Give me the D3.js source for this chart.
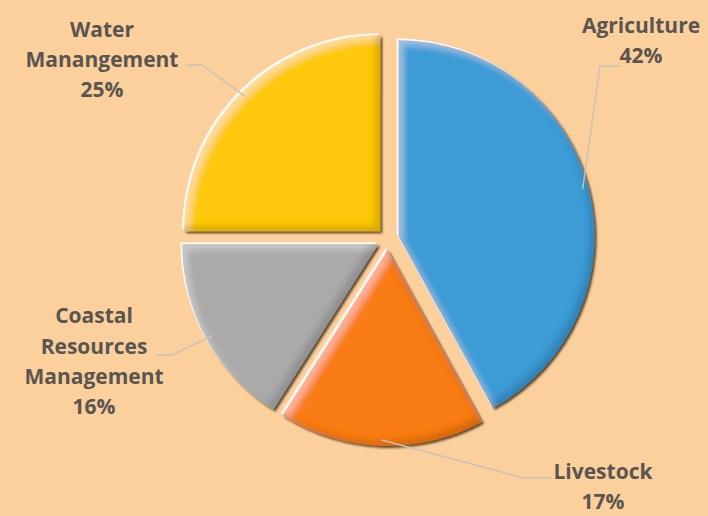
<!DOCTYPE html>
<html lang="en">
<head>
    <meta charset="utf-8">
    <title>Pie</title>
    <script src="https://cdn.jsdelivr.net/npm/d3@7/dist/d3.min.js"></script>
</head>
<style>
    body { margin: 0; background: #FBD09D; }
    svg { display: block; }
</style>
<body>
    <script>

     // slices, clockwise from 12 o'clock
     var categories = ["Agriculture", "Livestock", "Coastal Resources Management", "Water Manangement"];
     var shares = [42, 17, 16, 25];
     var colors = ["#3E9BD6", "#FA7B17", "#AAAAAA", "#FEC80F"];

     // label text lines and where each label sits
     var labelLines = [["Agriculture"], ["Livestock"], ["Coastal", "Resources", "Management"], ["Water", "Manangement"]];
     var labelPos = [
         { x: 641, y: 33, lineEnd: [620, 66], elbow: [600, 66] },
         { x: 603, y: 479, lineEnd: [552, 478], elbow: [524, 478] },
         { x: 94, y: 323, lineEnd: [156, 355], elbow: [172, 355] },
         { x: 102, y: 37, lineEnd: [186, 65], elbow: [202, 65] }
     ];

     var width = 708, height = 516;
     var cx = 388, cy = 239, radius = 196, explode = 11;

     var svg = d3.select("body").append("svg")
                 .attr("width", width)
                 .attr("height", height);

     svg.append("rect")
        .attr("width", width)
        .attr("height", height)
        .attr("fill", "#FBD09D");

     // bevel-ish filter: light rim top-left, dark rim bottom-right, halo + shadow outside
     var defs = svg.append("defs");
     var f = defs.append("filter").attr("id", "bevel")
                 .attr("x", "-10%").attr("y", "-10%")
                 .attr("width", "120%").attr("height", "120%");
     f.append("feGaussianBlur").attr("in", "SourceAlpha").attr("stdDeviation", 3).attr("result", "blur");
     f.append("feOffset").attr("in", "blur").attr("dx", 5).attr("dy", 5).attr("result", "offHi");
     f.append("feComposite").attr("in", "SourceAlpha").attr("in2", "offHi").attr("operator", "out").attr("result", "rimHi");
     f.append("feFlood").attr("flood-color", "#ffffff").attr("flood-opacity", 0.3).attr("result", "white");
     f.append("feComposite").attr("in", "white").attr("in2", "rimHi").attr("operator", "in").attr("result", "hi");
     f.append("feOffset").attr("in", "blur").attr("dx", -5).attr("dy", -5).attr("result", "offSh");
     f.append("feComposite").attr("in", "SourceAlpha").attr("in2", "offSh").attr("operator", "out").attr("result", "rimSh");
     f.append("feFlood").attr("flood-color", "#000000").attr("flood-opacity", 0.3).attr("result", "black");
     f.append("feComposite").attr("in", "black").attr("in2", "rimSh").attr("operator", "in").attr("result", "sh");
     // outside
     f.append("feOffset").attr("in", "SourceAlpha").attr("dx", 2).attr("dy", 2).attr("result", "dropOff");
     f.append("feGaussianBlur").attr("in", "dropOff").attr("stdDeviation", 1.2).attr("result", "dropBlur");
     f.append("feFlood").attr("flood-color", "#2a1a0a").attr("flood-opacity", 0.75).attr("result", "dark");
     f.append("feComposite").attr("in", "dark").attr("in2", "dropBlur").attr("operator", "in").attr("result", "drop");
     f.append("feOffset").attr("in", "SourceAlpha").attr("dx", -2).attr("dy", -2).attr("result", "haloOff");
     f.append("feFlood").attr("flood-color", "#ffffff").attr("flood-opacity", 0.85).attr("result", "white2");
     f.append("feComposite").attr("in", "white2").attr("in2", "haloOff").attr("operator", "in").attr("result", "halo");
     var merge = f.append("feMerge");
     ["halo", "drop", "SourceGraphic", "hi", "sh"].forEach(function(n) {
         merge.append("feMergeNode").attr("in", n);
     });

     var pie = d3.pie().sort(null).value(function(d) { return d; });
     var arcs = pie(shares);

     var arc = d3.arc().innerRadius(0).outerRadius(radius);

     function dir(a) { return [Math.sin(a), -Math.cos(a)]; }

     var g = svg.append("g").attr("transform", "translate(" + cx + "," + cy + ")");

     g.selectAll("path.slice")
      .data(arcs)
      .enter().append("path")
      .attr("class", "slice")
      .attr("d", arc)
      .attr("fill", function(d, i) { return colors[i]; })
      .attr("filter", "url(#bevel)")
      .attr("transform", function(d) {
          var m = dir((d.startAngle + d.endAngle) / 2);
          return "translate(" + (m[0] * explode) + "," + (m[1] * explode) + ")";
      });

     // leader lines
     var line = d3.line();
     svg.selectAll("path.leader")
        .data(arcs)
        .enter().append("path")
        .attr("class", "leader")
        .attr("fill", "none")
        .attr("stroke", "#C9C2B8")
        .attr("stroke-width", 1.5)
        .attr("d", function(d, i) {
            var m = dir((d.startAngle + d.endAngle) / 2);
            var p = [cx + m[0] * (explode + radius - 6), cy + m[1] * (explode + radius - 6)];
            return line([labelPos[i].lineEnd, labelPos[i].elbow, p]);
        });

     // labels
     var lineHeight = 30;
     svg.selectAll("text.label")
        .data(arcs)
        .enter().append("text")
        .attr("class", "label")
        .attr("text-anchor", "middle")
        .attr("font-family", "'Open Sans', sans-serif")
        .attr("font-weight", 700)
        .attr("font-size", 21)
        .attr("fill", "#5A5550")
        .each(function(d, i) {
            var t = d3.select(this);
            var lines = labelLines[i].concat([shares[i] + "%"]);
            lines.forEach(function(s, k) {
                t.append("tspan")
                 .attr("x", labelPos[i].x)
                 .attr("y", labelPos[i].y + k * (k === 0 ? 0 : lineHeight) + (i === 2 && k > 0 ? 1 : 0))
                 .text(s);
            });
        });

    </script>
</body>
</html>
